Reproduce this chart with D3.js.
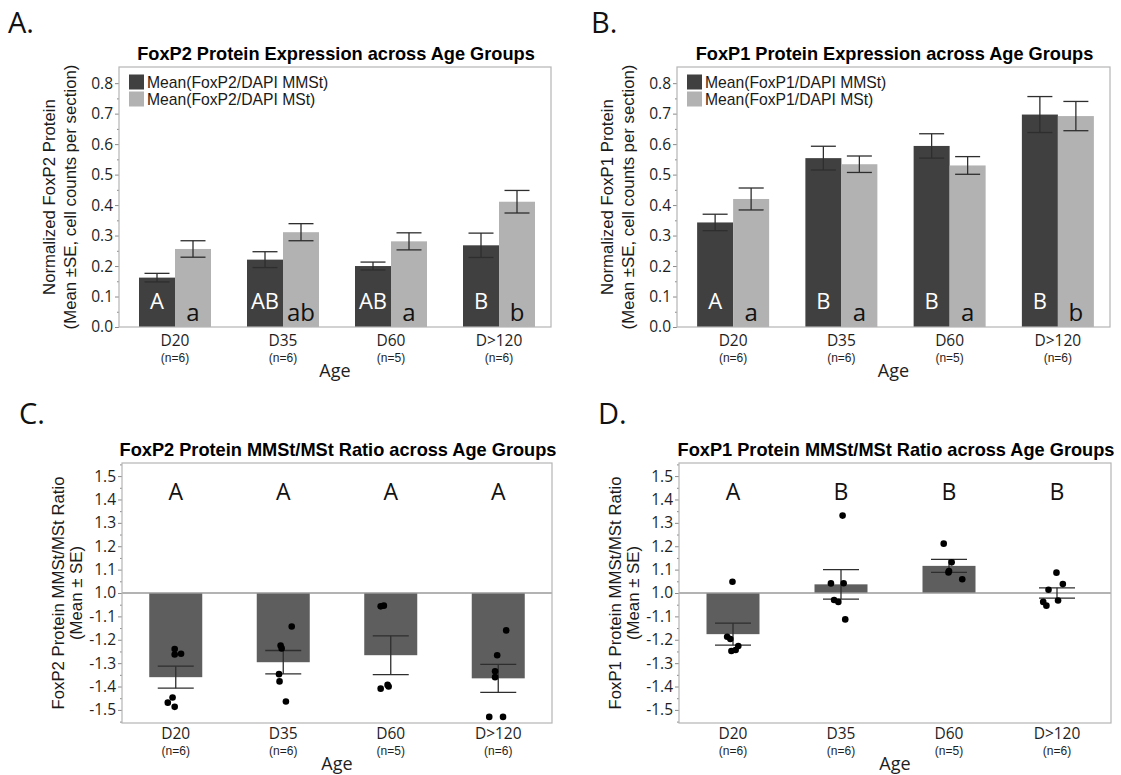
<!DOCTYPE html>
<html>
<head>
<meta charset="utf-8">
<script src="https://cdn.jsdelivr.net/npm/d3@7/dist/d3.min.js"></script>
<style>
  html, body { margin: 0; padding: 0; background: #fff; }
  svg { display: block; }
</style>
</head>
<body>
<svg id="chart" width="1121" height="775"></svg>
<script>
// ---------------- DATA ----------------
const categories = ["D20", "D35", "D60", "D>120"];
const sampleSizes = ["(n=6)", "(n=6)", "(n=5)", "(n=6)"];
const xAxisTitle = "Age";

const expressionTicks = [0.0, 0.1, 0.2, 0.3, 0.4, 0.5, 0.6, 0.7, 0.8];

// Panel A: FoxP2
const foxp2MMSt = [0.162, 0.221, 0.200, 0.268];
const foxp2MMStSE = [0.014, 0.026, 0.013, 0.040];
const foxp2MSt = [0.256, 0.311, 0.281, 0.411];
const foxp2MStSE = [0.027, 0.028, 0.028, 0.037];
const foxp2MMStLetters = ["A", "AB", "AB", "B"];
const foxp2MStLetters = ["a", "ab", "a", "b"];

// Panel B: FoxP1
const foxp1MMSt = [0.343, 0.554, 0.594, 0.697];
const foxp1MMStSE = [0.027, 0.039, 0.040, 0.059];
const foxp1MSt = [0.420, 0.534, 0.530, 0.692];
const foxp1MStSE = [0.036, 0.027, 0.029, 0.048];
const foxp1MMStLetters = ["A", "B", "B", "B"];
const foxp1MStLetters = ["a", "a", "a", "b"];

// Ratio axis (fold change, 1.0 in the middle, negative fold below)
const ratioTickValues = [-1.5, -1.4, -1.3, -1.2, -1.1, 1.0, 1.1, 1.2, 1.3, 1.4, 1.5];
const ratioTickLabels = ["-1.5", "-1.4", "-1.3", "-1.2", "-1.1", "1.0", "1.1", "1.2", "1.3", "1.4", "1.5"];

// Panel C: FoxP2 ratio
const foxp2RatioMean = [-1.360, -1.296, -1.266, -1.365];
const foxp2RatioSE = [0.047, 0.050, 0.083, 0.060];
const foxp2RatioLetters = ["A", "A", "A", "A"];
const foxp2RatioPoints = [
  [-1.240, -1.263, -1.260, -1.447, -1.469, -1.487],
  [-1.143, -1.225, -1.237, -1.347, -1.378, -1.464],
  [-1.057, -1.054, -1.409, -1.393, -1.400],
  [-1.160, -1.266, -1.335, -1.360, -1.530, -1.530]
];
// horizontal jitter of each point, as a fraction of the bar width
const foxp2RatioJitter = [
  [-0.02, -0.02, 0.10, -0.06, -0.15, -0.02],
  [0.16, -0.05, -0.03, -0.08, -0.07, 0.05],
  [-0.19, -0.13, -0.19, -0.06, -0.04],
  [0.15, -0.02, -0.06, -0.06, -0.17, 0.09]
];

// Panel D: FoxP1 ratio
const foxp1RatioMean = [-1.176, 1.037, 1.116, 1.000];
const foxp1RatioSE = [0.047, 0.063, 0.028, 0.022];
const foxp1RatioLetters = ["A", "B", "B", "B"];
const foxp1RatioPoints = [
  [1.048, -1.187, -1.197, -1.227, -1.244, -1.248],
  [1.331, 1.041, 1.042, -1.030, -1.038, -1.113],
  [1.211, 1.131, 1.094, 1.088, 1.059],
  [1.087, 1.038, 1.014, -1.038, -1.054, -1.032]
];
const foxp1RatioJitter = [
  [-0.01, -0.11, -0.05, 0.10, 0.05, -0.03],
  [0.03, -0.19, 0.05, -0.13, -0.05, 0.08],
  [-0.10, 0.05, 0.00, -0.01, 0.25],
  [-0.01, 0.11, -0.16, -0.26, -0.20, 0.02]
];

// ---------------- STYLE ----------------
const C = {
  dark: "#404040",
  light: "#b2b2b2",
  ratioBar: "#5e5e5e",
  frame: "#b5b5b5",
  err: "#2e2e2e",
  refLine: "#9a9a9a",
  tick: "#8a8a8a",
  text: "#1a1a1a"
};
const SANS = "'Liberation Sans', Arial, sans-serif";
const UI = "'Open Sans', 'Noto Sans', sans-serif";

const svg = d3.select("#chart");
svg.append("rect").attr("width", 1121).attr("height", 775).attr("fill", "#fff");

// fold value -> signed offset from 1.0
const foldOffset = v => (v >= 0 ? v - 1 : v + 1);

function panelLetter(txt, x, y) {
  svg.append("text").attr("x", x).attr("y", y)
    .attr("font-family", UI).attr("font-size", 29).attr("fill", "#111")
    .text(txt);
}

function frameAndAxes(g, f, y, tickVals, tickLabels, minorVals) {
  const axis = d3.axisLeft(y).tickValues(tickVals).tickSize(4).tickPadding(2)
    .tickFormat((d, i) => tickLabels[i]);
  const ax = g.append("g").attr("transform", `translate(${f.x0},0)`).call(axis);
  ax.select(".domain").remove();
  ax.selectAll(".tick line").attr("stroke", C.tick);
  ax.selectAll(".tick text").attr("font-family", UI).attr("font-size", 15.5)
    .attr("fill", "#1e1e1e");
  const minor = d3.axisLeft(y).tickValues(minorVals).tickSize(2).tickFormat("");
  const mx = g.append("g").attr("transform", `translate(${f.x0},0)`).call(minor);
  mx.select(".domain").remove();
  mx.selectAll(".tick line").attr("stroke", C.tick);
}

function drawFrame(g, f) {
  g.append("rect").attr("x", f.x0).attr("y", f.y0)
    .attr("width", f.x1 - f.x0).attr("height", f.y1 - f.y0)
    .attr("fill", "none").attr("stroke", C.frame).attr("stroke-width", 1.2);
}

function xLabels(g, f, x, off) {
  const xa = d3.axisBottom(x).tickSize(0).tickPadding(0).tickFormat(() => "");
  const axg = g.append("g").attr("transform", `translate(0,${f.y1})`).call(xa);
  axg.select(".domain").remove();
  categories.forEach((c, i) => {
    const cx = x(c) + x.bandwidth() / 2;
    g.append("text").attr("x", cx).attr("y", f.y1 + off.cat)
      .attr("text-anchor", "middle").attr("font-family", UI).attr("font-size", 15.5)
      .attr("fill", "#1e1e1e").text(c);
    g.append("text").attr("x", cx).attr("y", f.y1 + off.n)
      .attr("text-anchor", "middle").attr("font-family", SANS).attr("font-size", 12)
      .attr("fill", "#1e1e1e").text(sampleSizes[i]);
  });
  g.append("text").attr("x", (f.x0 + f.x1) / 2).attr("y", f.y1 + off.title)
    .attr("text-anchor", "middle").attr("font-family", UI).attr("font-size", 18)
    .attr("fill", "#1e1e1e").text(xAxisTitle);
}

function yTitle(g, f, lines, offsets) {
  const cy = (f.y0 + f.y1) / 2;
  lines.forEach((t, i) => {
    g.append("text")
      .attr("transform", `translate(${f.x0 - offsets[i]},${cy}) rotate(-90)`)
      .attr("text-anchor", "middle").attr("dominant-baseline", "central")
      .attr("font-family", SANS).attr("font-size", 16.8).attr("fill", C.text)
      .text(t);
  });
}

function chartTitle(g, f, t) {
  g.append("text").attr("x", (f.x0 + f.x1) / 2 + 1).attr("y", f.y0 - 7)
    .attr("text-anchor", "middle").attr("font-family", SANS)
    .attr("font-weight", "bold").attr("font-size", 18.2).attr("fill", "#000")
    .text(t);
}

function errorBar(g, cx, yTop, yBot, cap) {
  g.append("line").attr("x1", cx).attr("x2", cx).attr("y1", yTop).attr("y2", yBot)
    .attr("stroke", C.err).attr("stroke-width", 1.3);
  [yTop, yBot].forEach(yy => g.append("line")
    .attr("x1", cx - cap / 2).attr("x2", cx + cap / 2).attr("y1", yy).attr("y2", yy)
    .attr("stroke", C.err).attr("stroke-width", 1.3));
}

// ---------------- Expression panels (A, B) ----------------
function expressionPanel(cfg) {
  const f = cfg.frame;
  const g = svg.append("g");
  const x = d3.scaleBand().domain(categories).range([f.x0 + 2, f.x1 + 2]);
  const y = d3.scaleLinear().domain([0, 0.853]).range([f.y1, f.y0]);
  const sub = d3.scaleBand().domain(["MMSt", "MSt"]).range([-36, 36]);

  chartTitle(g, f, cfg.title);
  frameAndAxes(g, f, y, expressionTicks, expressionTicks.map(d => d.toFixed(1)),
    d3.range(0.05, 0.85, 0.1));

  const series = [
    { key: "MMSt", vals: cfg.mmst, se: cfg.mmstSE, color: C.dark, letters: cfg.mmstLetters },
    { key: "MSt", vals: cfg.mst, se: cfg.mstSE, color: C.light, letters: cfg.mstLetters }
  ];
  series.forEach(s => {
    categories.forEach((c, i) => {
      const cx = x(c) + x.bandwidth() / 2;
      g.append("rect").attr("x", cx + sub(s.key)).attr("width", sub.bandwidth())
        .attr("y", y(s.vals[i])).attr("height", y(0) - y(s.vals[i]))
        .attr("fill", s.color);
    });
  });
  series.forEach(s => {
    categories.forEach((c, i) => {
      const bx = x(c) + x.bandwidth() / 2 + sub(s.key) + sub.bandwidth() / 2;
      errorBar(g, bx, y(s.vals[i] + s.se[i]), y(s.vals[i] - s.se[i]), 25);
      const isDark = s.key === "MMSt";
      g.append("text").attr("x", bx).attr("y", isDark ? f.y1 - 18 : f.y1 - 6)
        .attr("text-anchor", "middle").attr("font-family", UI)
        .attr("font-size", isDark ? 22 : 24)
        .attr("fill", isDark ? "#fff" : "#111").text(s.letters[i]);
    });
  });
  drawFrame(g, f);

  // legend
  cfg.legend.forEach((t, i) => {
    const ly = f.y0 + 15 + i * 17;
    g.append("rect").attr("x", f.x0 + 10).attr("y", ly - 7.5).attr("width", 15).attr("height", 15)
      .attr("fill", i === 0 ? C.dark : C.light);
    g.append("text").attr("x", f.x0 + 28).attr("y", ly).attr("dominant-baseline", "central")
      .attr("font-family", SANS).attr("font-size", 15.7).attr("fill", C.text).text(t);
  });

  yTitle(g, f, cfg.yTitle, [70, 49]);
  xLabels(g, f, x, { cat: 19, n: 35, title: 50 });
}

// ---------------- Ratio panels (C, D) ----------------
function ratioPanel(cfg) {
  const f = cfg.frame;
  const g = svg.append("g");
  const x = d3.scaleBand().domain(categories).range([f.x0, f.x1]);
  const y = d3.scaleLinear().domain([-0.556, 0.556]).range([f.y1, f.y0]);
  const bw = 53;

  chartTitle(g, f, cfg.title);
  const tickPos = ratioTickValues.map(foldOffset);
  frameAndAxes(g, f, y, tickPos, ratioTickLabels, d3.range(-0.55, 0.56, 0.1));

  categories.forEach((c, i) => {
    const cx = x(c) + x.bandwidth() / 2;
    const m = foldOffset(cfg.mean[i]);
    g.append("rect").attr("x", cx - bw / 2).attr("width", bw)
      .attr("y", Math.min(y(m), y(0))).attr("height", Math.abs(y(m) - y(0)))
      .attr("fill", C.ratioBar);
  });
  // reference line at 1.0
  g.append("line").attr("x1", f.x0).attr("x2", f.x1)
    .attr("y1", y(0)).attr("y2", y(0)).attr("stroke", C.refLine).attr("stroke-width", 1.3);

  categories.forEach((c, i) => {
    const cx = x(c) + x.bandwidth() / 2;
    const m = foldOffset(cfg.mean[i]);
    errorBar(g, cx, y(m + cfg.se[i]), y(m - cfg.se[i]), 36);
    cfg.points[i].forEach((p, j) => {
      g.append("circle").attr("cx", cx + cfg.jitter[i][j] * bw).attr("cy", y(foldOffset(p)))
        .attr("r", 3.3).attr("fill", "#000");
    });
    g.append("text").attr("x", cx).attr("y", f.y0 + 37)
      .attr("text-anchor", "middle").attr("font-family", UI).attr("font-size", 23)
      .attr("fill", "#111").text(cfg.letters[i]);
  });
  drawFrame(g, f);

  yTitle(g, f, cfg.yTitle, [64, 46]);
  xLabels(g, f, x, { cat: 16, n: 32, title: 47 });
}

// ---------------- Render ----------------
panelLetter("A.", 8, 33);
panelLetter("B.", 591, 33);
panelLetter("C.", 19, 424);
panelLetter("D.", 598, 424);

expressionPanel({
  frame: { x0: 119, x1: 551, y0: 67, y1: 327 },
  title: "FoxP2 Protein Expression across Age Groups",
  yTitle: ["Normalized FoxP2 Protein", "(Mean \u00B1SE, cell counts per section)"],
  legend: ["Mean(FoxP2/DAPI MMSt)", "Mean(FoxP2/DAPI MSt)"],
  mmst: foxp2MMSt, mmstSE: foxp2MMStSE, mst: foxp2MSt, mstSE: foxp2MStSE,
  mmstLetters: foxp2MMStLetters, mstLetters: foxp2MStLetters
});

expressionPanel({
  frame: { x0: 677, x1: 1110, y0: 67, y1: 327 },
  title: "FoxP1 Protein Expression across Age Groups",
  yTitle: ["Normalized FoxP1 Protein", "(Mean \u00B1SE, cell counts per section)"],
  legend: ["Mean(FoxP1/DAPI MMSt)", "Mean(FoxP1/DAPI MSt)"],
  mmst: foxp1MMSt, mmstSE: foxp1MMStSE, mst: foxp1MSt, mstSE: foxp1MStSE,
  mmstLetters: foxp1MMStLetters, mstLetters: foxp1MStLetters
});

ratioPanel({
  frame: { x0: 122, x1: 552, y0: 463, y1: 723 },
  title: "FoxP2 Protein MMSt/MSt Ratio across Age Groups",
  yTitle: ["FoxP2 Protein MMSt/MSt Ratio", "(Mean \u00B1 SE)"],
  mean: foxp2RatioMean, se: foxp2RatioSE, points: foxp2RatioPoints,
  jitter: foxp2RatioJitter, letters: foxp2RatioLetters
});

ratioPanel({
  frame: { x0: 679, x1: 1111, y0: 463, y1: 723 },
  title: "FoxP1 Protein MMSt/MSt Ratio across Age Groups",
  yTitle: ["FoxP1 Protein MMSt/MSt Ratio", "(Mean \u00B1 SE)"],
  mean: foxp1RatioMean, se: foxp1RatioSE, points: foxp1RatioPoints,
  jitter: foxp1RatioJitter, letters: foxp1RatioLetters
});
</script>
</body>
</html>
